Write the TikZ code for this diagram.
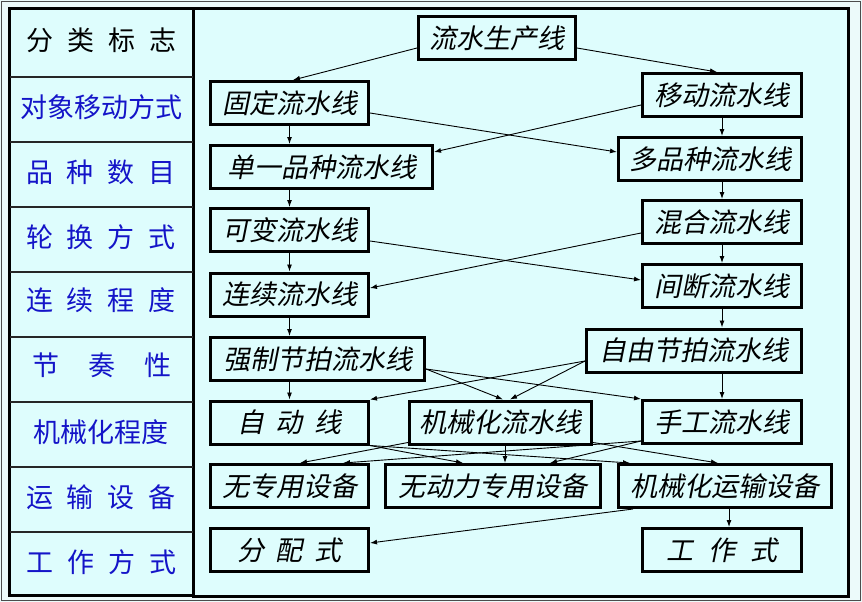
\documentclass[tikz,border=0pt]{standalone}
\usepackage{fontspec}
\newfontfamily\cjk{Noto Sans CJK SC}
\newfontfamily\cjkit[FakeSlant=0.2]{Noto Sans CJK SC}
\usetikzlibrary{arrows.meta,calc}
\definecolor{panelbg}{RGB}{222,253,253}
\definecolor{outerbg}{RGB}{236,250,250}
\definecolor{lblue}{RGB}{20,20,200}
\begin{document}
\begin{tikzpicture}[x=1pt,y=-1pt,
 box/.style={draw=black,line width=3pt,fill=panelbg,minimum height=43pt,inner sep=0pt,font=\cjkit\fontsize{27}{27}\selectfont},
 lab/.style={font=\cjk\fontsize{27}{27}\selectfont,text=lblue,inner sep=0pt},
 arr/.style={line width=0.9pt,-{Latex[length=7pt,width=5pt]}},
 sep/.style={line width=1.3pt,draw=black!85}]
\useasboundingbox (0,0) rectangle (862,602);
\fill[outerbg] (0,0) rectangle (862,602);
\draw[line width=1pt,black!70] (1.5,1.5) rectangle (860.5,600.5);
\filldraw[fill=panelbg,draw=black,line width=3pt] (9.5,8.5) rectangle (193,595);
\filldraw[fill=panelbg,draw=black,line width=3pt] (193,8.5) rectangle (848.5,596);
% row separators
\foreach \yy in {77,142,207,272,337,402,467,532}
  \draw[sep] (9.5,\yy) -- (193,\yy);
% left labels
\node[lab,text=black] (h0) at (102,40) {分\hspace{14pt}类\hspace{14pt}标\hspace{14pt}志};
\node[lab] (h1) at (101,107) {对象移动方式};
\node[lab] (h2) at (101,172) {品\hspace{14pt}种\hspace{14pt}数\hspace{14pt}目};
\node[lab] (h3) at (101,237) {轮\hspace{14pt}换\hspace{14pt}方\hspace{14pt}式};
\node[lab] (h4) at (101,300) {连\hspace{14pt}续\hspace{14pt}程\hspace{14pt}度};
\node[lab] (h5) at (102,365) {节\hspace{29pt}奏\hspace{29pt}性};
\node[lab] (h6) at (101,432) {机械化程度};
\node[lab] (h7) at (101,497) {运\hspace{14pt}输\hspace{14pt}设\hspace{14pt}备};
\node[lab] (h8) at (102,562) {工\hspace{14pt}作\hspace{14pt}方\hspace{14pt}式};
% boxes
\node[box,minimum width=157pt] (lsc) at (497,38.5) {流水生产线};
\node[box,minimum width=158pt] (gd) at (289.5,103) {固定流水线};
\node[box,minimum width=159pt] (yd) at (722,95) {移动流水线};
\node[box,minimum width=222pt] (dy) at (321.5,167) {单一品种流水线};
\node[box,minimum width=183pt] (dp) at (710,159) {多品种流水线};
\node[box,minimum width=158pt] (kb) at (289.5,230) {可变流水线};
\node[box,minimum width=159pt] (hh) at (722,222) {混合流水线};
\node[box,minimum width=158pt] (lx) at (289.5,294.5) {连续流水线};
\node[box,minimum width=159pt] (jd) at (722,286) {间断流水线};
\node[box,minimum width=214pt] (qz) at (317.5,359) {强制节拍流水线};
\node[box,minimum width=215pt] (zy) at (694,350.5) {自由节拍流水线};
\node[box,minimum width=158pt] (zd) at (289.5,422.5) {自\hspace{12pt}动\hspace{12pt}线};
\node[box,minimum width=182pt] (jx) at (500.5,422.5) {机械化流水线};
\node[box,minimum width=159pt] (sg) at (722,422) {手工流水线};
\node[box,minimum width=158pt] (wz) at (289.5,486) {无专用设备};
\node[box,minimum width=215pt] (wd) at (493,486) {无动力专用设备};
\node[box,minimum width=213pt] (jy) at (725,486) {机械化运输设备};
\node[box,minimum width=158pt] (fp) at (289.5,550) {分\hspace{12pt}配\hspace{12pt}式};
\node[box,minimum width=159pt] (gz) at (722,550) {工\hspace{15pt}作\hspace{15pt}式};
% arrows
\draw[arr] ([yshift=-9.5pt]lsc.west) -- ([xshift=3.5pt]gd.north);
\draw[arr] ([yshift=-9.5pt]lsc.east) -- ([xshift=-5pt]yd.north);
\draw[arr] (gd.south) -- (gd.south |- dy.north);
\draw[arr] ([yshift=-10pt]gd.east) -- ([yshift=7pt]dp.west);
\draw[arr] ([yshift=-10pt]yd.west) -- ([yshift=15pt]dy.east);
\draw[arr] (yd.south) -- (yd.south |- dp.north);
\draw[arr] (kb.north |- dy.south) -- (kb.north);
\draw[arr] (hh.north |- dp.south) -- (hh.north);
\draw[arr] ([yshift=-11pt]kb.east) -- ([yshift=6pt]jd.west);
\draw[arr] ([yshift=-11pt]hh.west) -- ([yshift=6.5pt]lx.east);
\draw[arr] (kb.south) -- (lx.north);
\draw[arr] (hh.south) -- (jd.north);
\draw[arr] (lx.south) -- (lx.south |- qz.north);
\draw[arr] (jd.south) -- (jd.south |- zy.north);
\draw[arr] (zd.north |- qz.south) -- (zd.north);
\draw[arr] (sg.north |- zy.south) -- (sg.north);
\draw[arr] ([yshift=-10pt]qz.east) -- ([xshift=2.5pt]jx.north);
\draw[arr] ([yshift=-10pt]qz.east) -- (sg.north west);
\draw[arr] ([yshift=-10.5pt]zy.west) -- (zd.north east);
\draw[arr] ([yshift=-10.5pt]zy.west) -- ([xshift=9.5pt]jx.north);
\draw[arr] (zd.south east) -- ([xshift=-30pt]wd.north);
\draw[arr] (zd.south east) -- ([xshift=13pt]jy.north west);
\draw[arr] ([yshift=3pt]jx.south west) -- ([xshift=10.5pt]wz.north);
\draw[arr] ([xshift=4.5pt]jx.south) -- ([xshift=4.5pt]jx.south |- wd.north);
\draw[arr] ([yshift=3pt]jx.south east) -- ([xshift=-7pt]jy.north);
\draw[arr] ([yshift=4pt]sg.south west) -- ([xshift=53.5pt]wz.north);
\draw[arr] ([yshift=4pt]sg.south west) -- ([xshift=57pt]wd.north);
\draw[arr] ([xshift=16pt]jy.south west) -- ([yshift=7pt]fp.east);
\draw[arr] ([xshift=4pt]jy.south) -- ([xshift=4pt]jy.south |- gz.north);
\end{tikzpicture}
\end{document}
